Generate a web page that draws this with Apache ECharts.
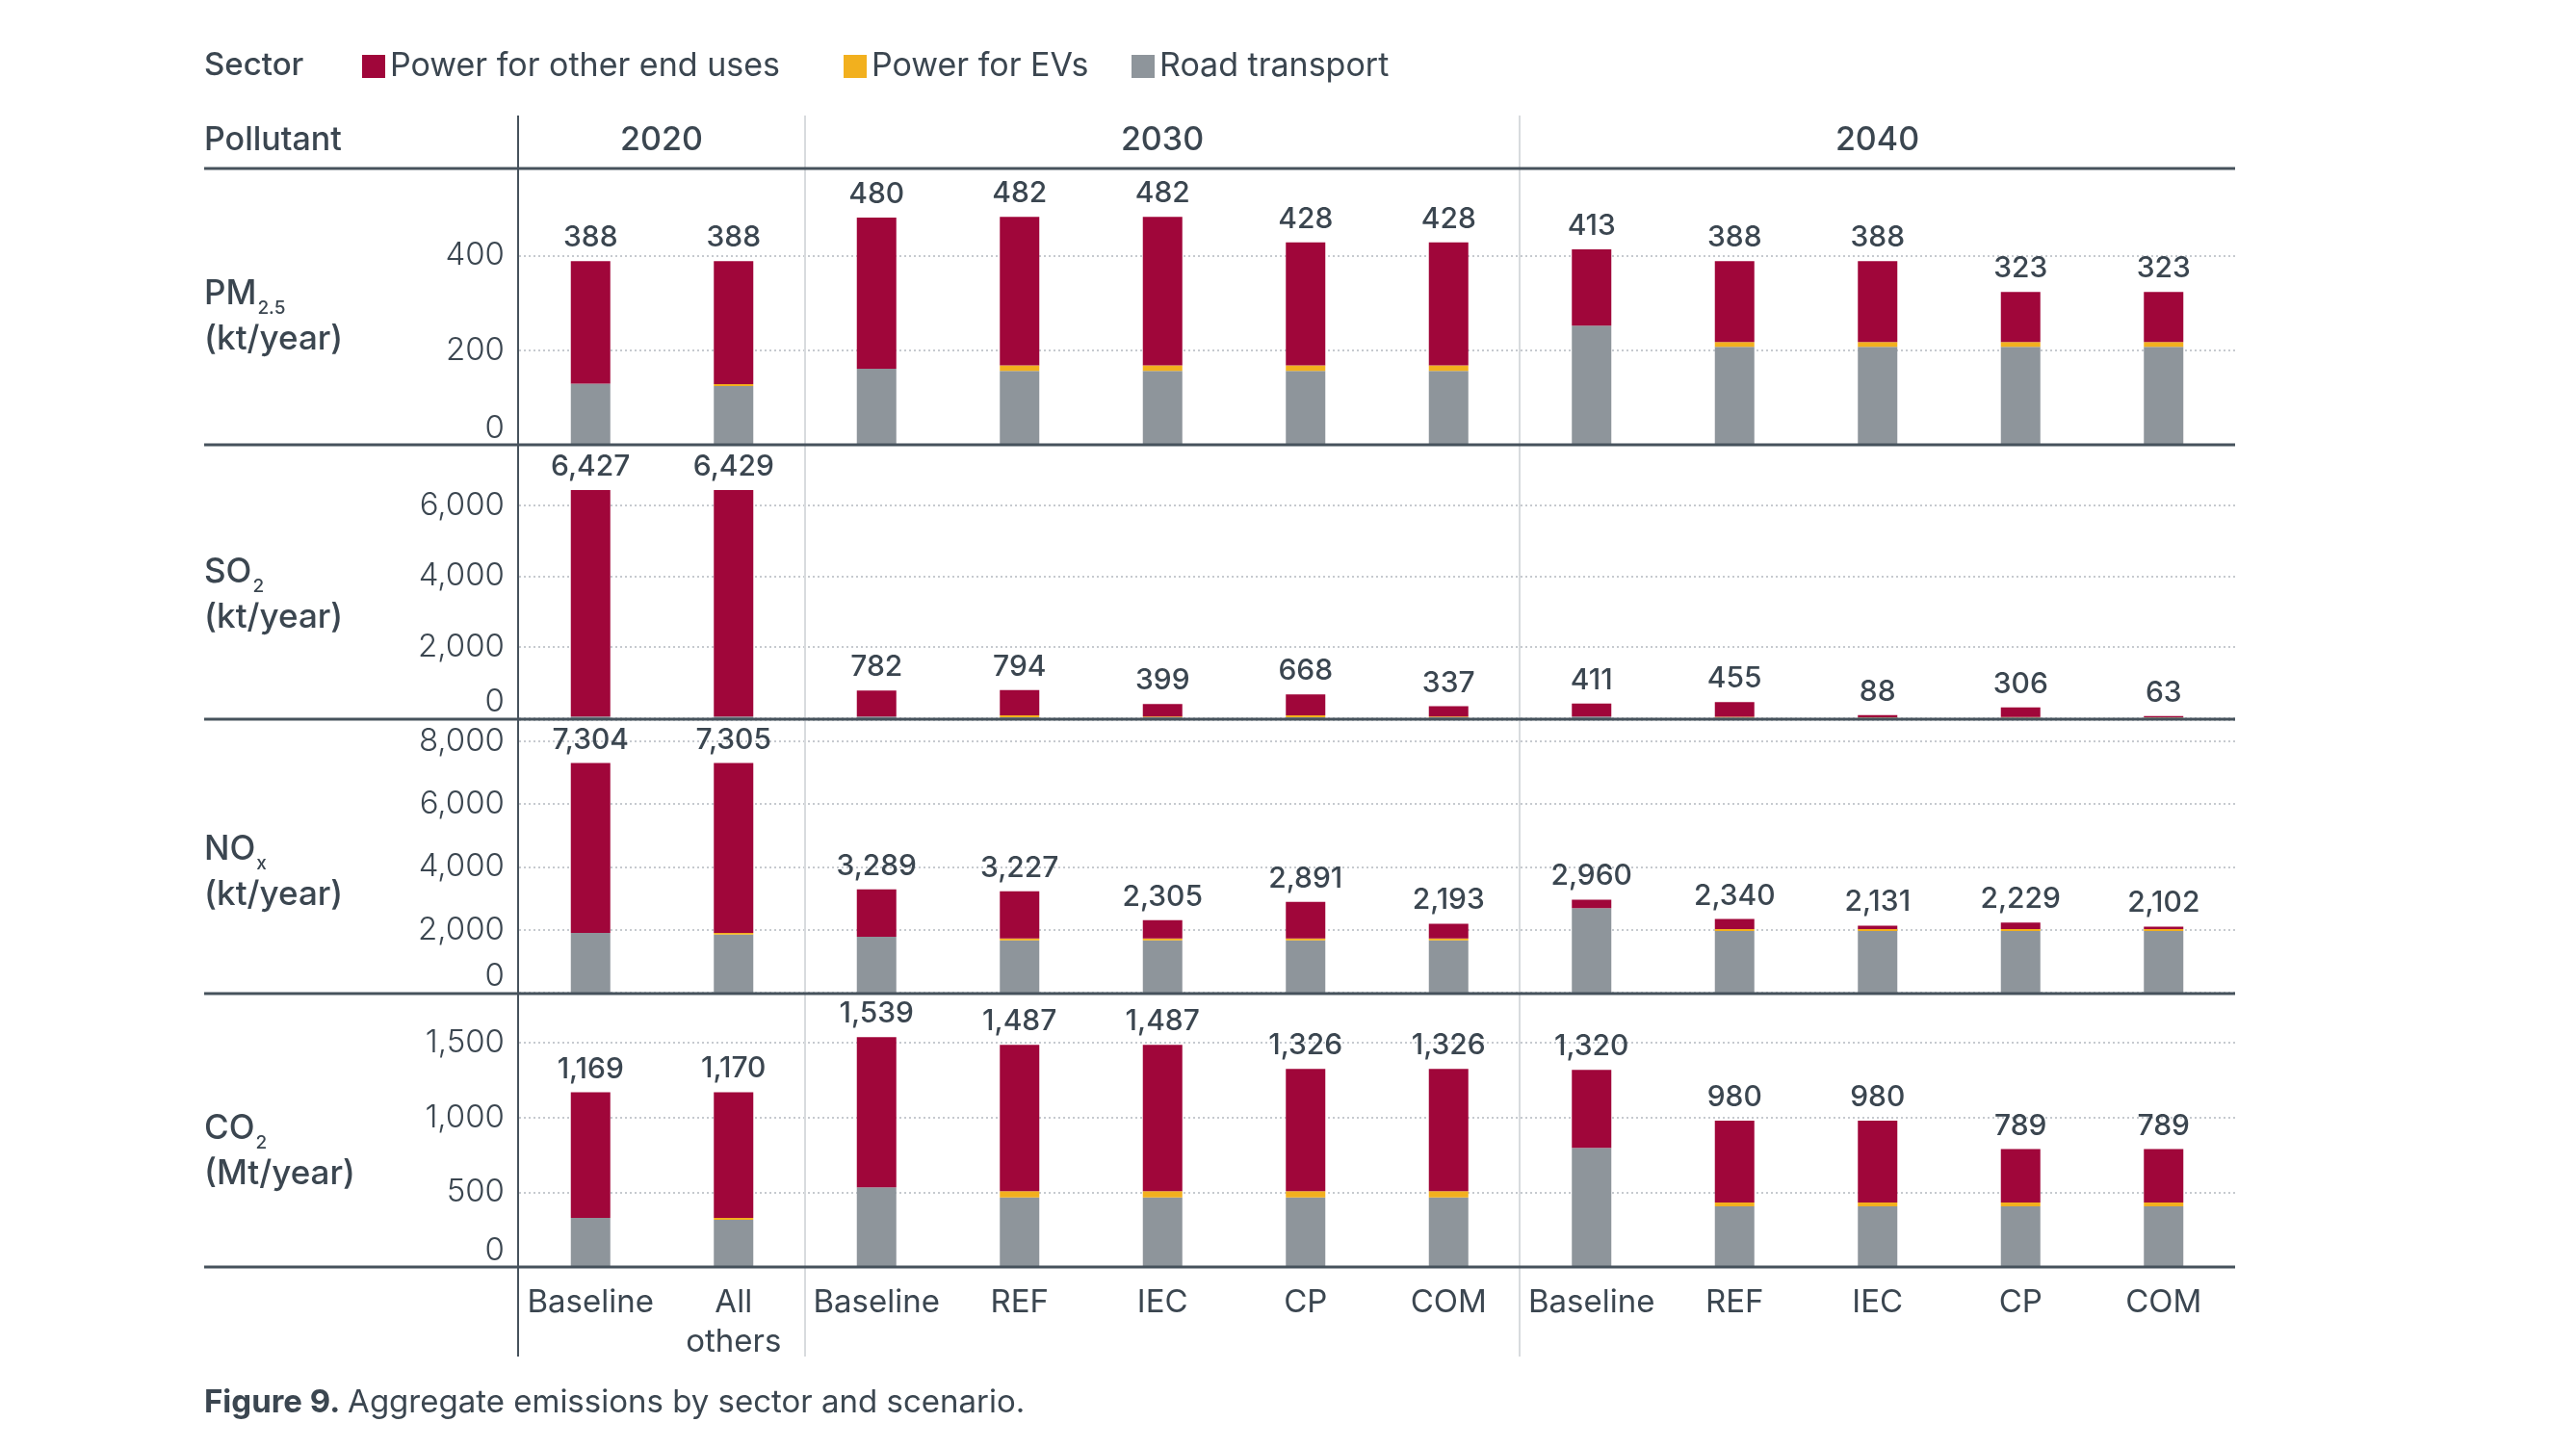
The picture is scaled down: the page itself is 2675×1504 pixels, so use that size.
<!DOCTYPE html>
<html><head><meta charset="utf-8">
<script src="https://cdn.jsdelivr.net/npm/echarts@6/dist/echarts.min.js"></script>
<style>html,body{margin:0;padding:0;background:#fff}#c{width:2675px;height:1504px}</style>
</head><body><div id="c"></div>
<script>
// ---------- DATA ----------
const categories = ['Baseline','All\nothers','Baseline','REF','IEC','CP','COM','Baseline','REF','IEC','CP','COM'];
const years = ['2020','2030','2040'];
const sectors = ['Power for other end uses','Power for EVs','Road transport'];

const pm25Total = [388,388,480,482,482,428,428,413,388,388,323,323];
const pm25Road  = [129,124,161,156,156,156,156,252,207,207,207,207];
const pm25EV    = [0,4,0,12,12,12,12,0,10,10,10,10];
const pm25Other = [259,260,319,314,314,260,260,161,171,171,106,106];

const so2Total = [6427,6429,782,794,399,668,337,411,455,88,306,63];
const so2Road  = [50,47,50,30,30,30,30,50,20,20,20,20];
const so2EV    = [0,3,0,50,20,50,20,0,20,10,15,10];
const so2Other = [6377,6379,732,714,349,588,287,361,415,58,271,33];

const noxTotal = [7304,7305,3289,3227,2305,2891,2193,2960,2340,2131,2229,2102];
const noxRoad  = [1899,1847,1776,1663,1663,1663,1663,2686,1960,1960,1960,1960];
const noxEV    = [0,52,0,62,62,62,62,0,61,61,61,61];
const noxOther = [5405,5406,1513,1502,580,1166,468,274,319,110,208,81];

const co2Total = [1169,1170,1539,1487,1487,1326,1326,1320,980,980,789,789];
const co2Road  = [328,315,534,466,466,466,466,798,406,406,406,406];
const co2EV    = [0,13,0,41,41,41,41,0,25,25,25,25];
const co2Other = [841,842,1005,980,980,819,819,522,549,549,358,358];

// ---------- STYLE / LAYOUT ----------
const FONT = 'Inter, "Noto Sans", sans-serif';
const TXT = '#3B4650';
const DARK = '#46525C';
const C_OTHER = '#A0063A', C_EV = '#F2B01E', C_ROAD = '#8E959B';

const panels = [
  {main:'PM', sub:'2.5', unit:'(kt/year)', total:pm25Total, road:pm25Road, ev:pm25EV, other:pm25Other, top:175, height:287, max:584, interval:200, capY:305},
  {main:'SO', sub:'2', unit:'(kt/year)', total:so2Total, road:so2Road, ev:so2EV, other:so2Other, top:462, height:284, max:7700, interval:2000, capY:594},
  {main:'NO', sub:'x', unit:'(kt/year)', total:noxTotal, road:noxRoad, ev:noxEV, other:noxOther, top:748, height:283, max:8670, interval:2000, capY:882},
  {main:'CO', sub:'2', unit:'(Mt/year)', total:co2Total, road:co2Road, ev:co2EV, other:co2Other, top:1032, height:284, max:1830, interval:500, capY:1172}
];

const GL = 539, GW = 1782;
const fmt = v => Number(v).toLocaleString('en-US');

const grid = [], xAxis = [], yAxis = [], series = [];
panels.forEach((p, i) => {
  grid.push({left: GL, width: GW, top: p.top, height: p.height, containLabel: false});
  const last = i === panels.length - 1;
  xAxis.push({
    type: 'category', gridIndex: i, data: categories,
    axisLine: {show: false}, axisTick: {show: false},
    axisLabel: last ? {show: true, interval: 0, margin: 17, fontFamily: FONT, fontSize: 33, lineHeight: 41, color: TXT, fontWeight: 400} : {show: false},
    splitLine: {show: false}
  });
  yAxis.push({
    type: 'value', gridIndex: i, min: 0, max: p.max, interval: p.interval,
    axisLine: {show: false}, axisTick: {show: false},
    splitLine: {show: true, lineStyle: {color: '#c6cacf', type: [2, 3], width: 2}},
    axisLabel: {
      show: true, showMaxLabel: false, margin: 15, fontFamily: FONT, fontSize: 33, fontWeight: 300, color: TXT,
      formatter: v => v === 0 ? '{z|0}' : fmt(v),
      rich: {z: {fontFamily: FONT, fontSize: 33, fontWeight: 300, color: TXT, padding: [0, 0, 34, 0]}}
    }
  });
  const base = {type: 'bar', xAxisIndex: i, yAxisIndex: i, stack: 's' + i, barWidth: 41, animation: false};
  series.push(Object.assign({}, base, {name: sectors[2], data: p.road, itemStyle: {color: C_ROAD}}));
  series.push(Object.assign({}, base, {name: sectors[1], data: p.ev, itemStyle: {color: C_EV}}));
  series.push(Object.assign({}, base, {
    name: sectors[0], data: p.other, itemStyle: {color: C_OTHER},
    label: {show: true, position: 'top', distance: 9, fontFamily: FONT, fontSize: 30, fontWeight: 500, color: TXT,
      formatter: prm => fmt(p.total[prm.dataIndex])}
  }));
});

// decorations
const graphic = [];
const hLine = (y) => ({type: 'line', z: 100, shape: {x1: 212, y1: y, x2: 2321, y2: y}, style: {stroke: DARK, lineWidth: 3}});
[175, 462, 747, 1032, 1316].forEach(y => graphic.push(hLine(y)));
graphic.push({type: 'line', z: 99, shape: {x1: 538, y1: 120, x2: 538, y2: 1409}, style: {stroke: DARK, lineWidth: 2}});
[836, 1578].forEach(x => graphic.push({type: 'line', z: 1, shape: {x1: x, y1: 120, x2: x, y2: 1409}, style: {stroke: '#d8dbde', lineWidth: 2}}));

graphic.push({type: 'text', z: 100, style: {text: 'Sector', x: 212, y: 68, verticalAlign: 'middle', fontFamily: FONT, fontSize: 33, fontWeight: 500, fill: TXT}});
graphic.push({type: 'text', z: 100, style: {text: 'Pollutant', x: 212, y: 146, verticalAlign: 'middle', fontFamily: FONT, fontSize: 34, fontWeight: 500, fill: TXT}});
const yearX = [687, 1207, 1949.5];
years.forEach((yr, k) => graphic.push({type: 'text', z: 100, style: {text: yr, x: yearX[k], y: 146, align: 'center', verticalAlign: 'middle', fontFamily: FONT, fontSize: 34, fontWeight: 500, fill: TXT}}));

panels.forEach(p => {
  graphic.push({type: 'text', z: 100, style: {
    text: '{a|' + p.main + '}{s|' + p.sub + '}\n{b|' + p.unit + '}',
    x: 212, y: p.capY - 25, verticalAlign: 'top', fill: TXT,
    rich: {
      a: {fontFamily: FONT, fontSize: 35, fontWeight: 500, lineHeight: 50, fill: TXT},
      s: {fontFamily: FONT, fontSize: 19, fontWeight: 500, lineHeight: 18, verticalAlign: 'bottom', fill: TXT, padding: [0, 0, 0, 1]},
      b: {fontFamily: FONT, fontSize: 35, fontWeight: 500, lineHeight: 44, fill: TXT}
    }
  }});
});

graphic.push({type: 'text', z: 100, style: {
  text: '{b|Figure 9. }{r|Aggregate emissions by sector and scenario.}',
  x: 212, y: 1457, verticalAlign: 'middle',
  rich: {
    b: {fontFamily: FONT, fontSize: 33, fontWeight: 700, fill: TXT},
    r: {fontFamily: FONT, fontSize: 33, fontWeight: 400, fill: TXT}
  }
}});

const legendLeft = [376, 876, 1175];
const legend = sectors.map((s, k) => ({
  data: [s], left: legendLeft[k], top: 52, padding: 0, icon: 'rect', itemWidth: 24, itemHeight: 24,
  textStyle: {fontFamily: FONT, fontSize: 34, color: TXT, fontWeight: 400},
  selectedMode: false
}));

const chart = echarts.init(document.getElementById('c'), null, {renderer: 'canvas'});
chart.setOption({
  animation: false,
  backgroundColor: '#ffffff',
  textStyle: {fontFamily: FONT},
  legend,
  grid, xAxis, yAxis, series, graphic
});
</script>
</body></html>
